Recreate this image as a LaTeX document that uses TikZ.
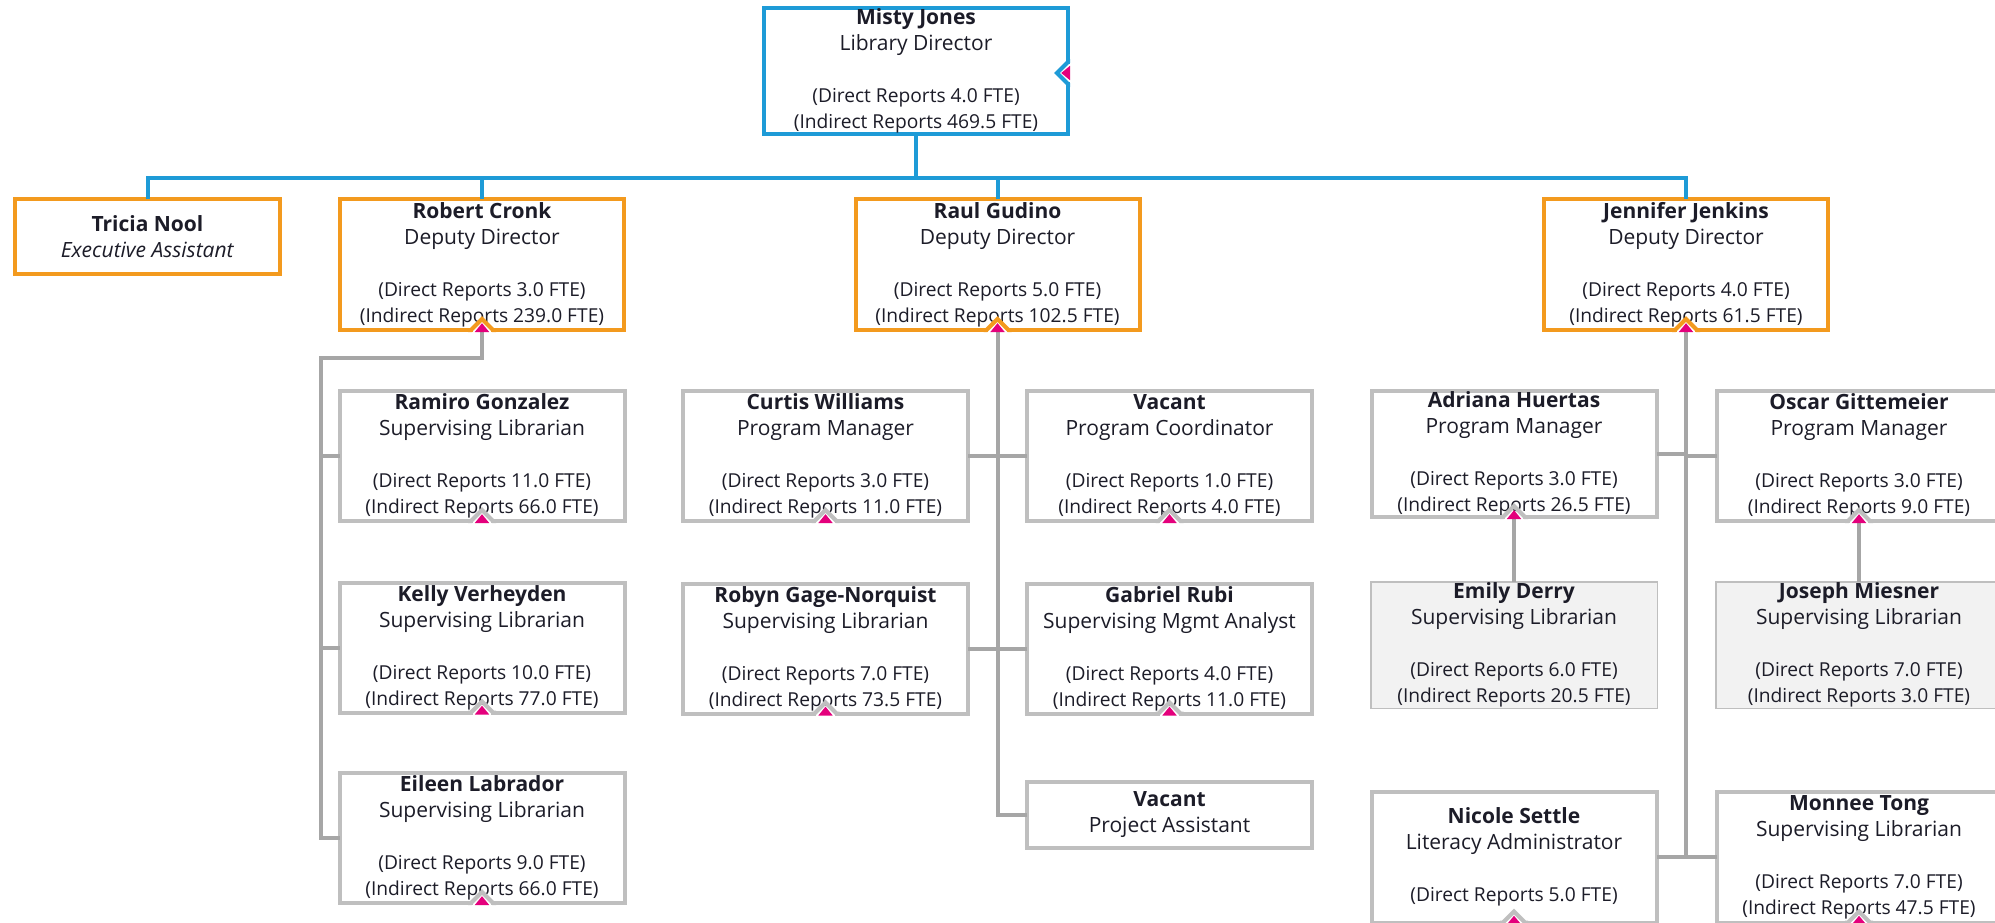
\documentclass[tikz,border=0pt]{standalone}
\usepackage{fontspec}
\setmainfont{Open Sans}
\usepackage{tikz}
\usetikzlibrary{positioning, calc}
\definecolor{chartblue}{HTML}{1E9BD7}
\definecolor{chartorange}{HTML}{F39A1E}
\definecolor{boxgray}{HTML}{BFBFBF}
\definecolor{wiregray}{HTML}{A6A6A6}
\definecolor{shadegray}{HTML}{F2F2F2}
\definecolor{notchpink}{HTML}{E4007C}
\definecolor{ink}{HTML}{1C1C28}
\newcommand{\namefont}{\fontsize{10.5}{13}\selectfont}
\newcommand{\reportfont}{\fontsize{9.6}{11}\selectfont}
\newcommand{\staff}[4]{\textbf{#1}\\#2\\[13pt]\reportfont(Direct Reports #3 FTE)\\\reportfont(Indirect Reports #4 FTE)}
\newcommand{\notch}[3]{% anchor, border colour, rotation
  \begin{scope}[shift={(#1)}, rotate=#3]
    \fill[white] (-4.6pt,-1.2pt) rectangle (4.6pt,1.2pt);
    \fill[notchpink] (-3.6pt,-1pt) -- (0,3.4pt) -- (3.6pt,-1pt) -- cycle;
    \draw[#2, line width=2pt] (-7pt,0) -- (-5.5pt,0) -- (0,5.5pt) -- (5.5pt,0) -- (7pt,0);
  \end{scope}}
\tikzstyle{director} = [rectangle, minimum width=152pt, minimum height=63pt, align=center, draw=chartblue, line width=2pt, fill=white, inner sep=0pt, outer sep=0pt, text=ink, font=\namefont]
\tikzstyle{deputy} = [rectangle, minimum width=142pt, minimum height=65.5pt, align=center, draw=chartorange, line width=2pt, fill=white, inner sep=0pt, outer sep=0pt, text=ink, font=\namefont]
\tikzstyle{staffbox} = [rectangle, minimum width=142.5pt, minimum height=65pt, align=center, draw=boxgray, line width=2pt, fill=white, inner sep=0pt, outer sep=0pt, text=ink, font=\namefont]
\tikzstyle{greybox} = [rectangle, minimum width=143.25pt, minimum height=63.25pt, align=center, draw=boxgray, line width=0.75pt, fill=shadegray, inner sep=0pt, outer sep=0pt, text=ink, font=\namefont]
\tikzstyle{bluewire} = [line width=2pt, draw=chartblue]
\tikzstyle{graywire} = [line width=2pt, draw=wiregray]

\begin{document}
\begin{tikzpicture}
            \useasboundingbox (0,0) rectangle (997.5pt,-461pt);
            \fill[white] (0,0) rectangle (997.5pt,-461pt);
            \clip (0,0) rectangle (997.5pt,-461pt);

            % Nodes
            \node (misty) [director] at (458pt,-35.5pt) {\staff{Misty Jones}{Library Director}{4.0}{469.5}};

            \node (raul) [deputy, below of=misty, node distance=96.75pt, xshift=40.75pt] {\staff{Raul Gudino}{Deputy Director}{5.0}{102.5}};
            \node (robert) [deputy, left of=raul, node distance=257.75pt] {\staff{Robert Cronk}{Deputy Director}{3.0}{239.0}};
            \node (jennifer) [deputy, right of=raul, node distance=344.25pt] {\staff{Jennifer Jenkins}{Deputy Director}{4.0}{61.5}};
            \node (tricia) [deputy, left of=robert, node distance=167.25pt, yshift=14pt, minimum width=132.5pt, minimum height=37.5pt] {\textbf{Tricia Nool}\\\textit{Executive Assistant}};

            \node (ramiro) [staffbox, below of=robert, node distance=95.75pt] {\staff{Ramiro Gonzalez}{Supervising Librarian}{11.0}{66.0}};
            \node (kelly) [staffbox, below of=ramiro, node distance=95.75pt] {\staff{Kelly Verheyden}{Supervising Librarian}{10.0}{77.0}};
            \node (eileen) [staffbox, below of=kelly, node distance=95.25pt] {\staff{Eileen Labrador}{Supervising Librarian}{9.0}{66.0}};

            \node (curtis) [staffbox, below of=raul, node distance=95.75pt, xshift=-86pt] {\staff{Curtis Williams}{Program Manager}{3.0}{11.0}};
            \node (vacpc) [staffbox, right of=curtis, node distance=172pt] {\staff{Vacant}{Program Coordinator}{1.0}{4.0}};
            \node (robyn) [staffbox, below of=curtis, node distance=96.25pt] {\staff{Robyn Gage-Norquist}{Supervising Librarian}{7.0}{73.5}};
            \node (gabriel) [staffbox, right of=robyn, node distance=172pt] {\staff{Gabriel Rubi}{Supervising Mgmt Analyst}{4.0}{11.0}};
            \node (vacpa) [staffbox, below of=gabriel, node distance=83.25pt, minimum height=33pt] {\textbf{Vacant}\\Project Assistant};

            \node (adriana) [staffbox, below of=jennifer, node distance=94.75pt, xshift=-86pt, minimum height=63pt] {\staff{Adriana Huertas}{Program Manager}{3.0}{26.5}};
            \node (oscar) [staffbox, right of=adriana, node distance=172.5pt, yshift=-1pt] {\staff{Oscar Gittemeier}{Program Manager}{3.0}{9.0}};
            \node (emily) [greybox, below of=adriana, node distance=95.5pt] {\staff{Emily Derry}{Supervising Librarian}{6.0}{20.5}};
            \node (joseph) [greybox, right of=emily, node distance=172.5pt] {\staff{Joseph Miesner}{Supervising Librarian}{7.0}{3.0}};
            \node (nicole) [staffbox, below of=emily, node distance=106pt, minimum height=65.5pt] {\textbf{Nicole Settle}\\Literacy Administrator\\[13pt]\reportfont(Direct Reports 5.0 FTE)};
            \node (monnee) [staffbox, right of=nicole, node distance=172.5pt, minimum height=65.5pt] {\staff{Monnee Tong}{Supervising Librarian}{7.0}{47.5}};

            % Edges
            \coordinate (hub) at ($(misty.south)+(0,-22pt)$);
            \draw [bluewire] (misty.south) -- (hub);
            \draw [bluewire] (hub) -| (tricia.north);
            \draw [bluewire] (hub) -| (robert.north);
            \draw [bluewire] (hub) -| (raul.north);
            \draw [bluewire] (hub) -| (jennifer.north);

            \coordinate (robertknee) at ($(robert.south)+(0,-14pt)$);
            \coordinate (robertbus) at ($(ramiro.west)+(-9.5pt,0)$);
            \draw [graywire] (robert.south) -- (robertknee) -| (robertbus) |- (eileen.west);
            \draw [graywire] (ramiro.west) -- (robertbus);
            \draw [graywire] (kelly.west) -- (kelly.west -| robertbus);

            \draw [graywire] (raul.south) |- (vacpa.west);
            \draw [graywire] (curtis.east) -- (vacpc.west);
            \draw [graywire] (robyn.east) -- (gabriel.west);

            \draw [graywire] (jennifer.south) |- (nicole.east);
            \draw [graywire] (monnee.west) -- (monnee.west -| jennifer.south);
            \draw [graywire] (adriana.east) -- (adriana.east -| jennifer.south);
            \draw [graywire] (oscar.west) -- (oscar.west -| jennifer.south);
            \draw [graywire] (adriana.south) -- (emily.north);
            \draw [graywire] (oscar.south) -- (joseph.north);

            % Notches
            \notch{$(misty.east)+(0,-1pt)$}{chartblue}{90}
            \notch{robert.south}{chartorange}{0}
            \notch{raul.south}{chartorange}{0}
            \notch{jennifer.south}{chartorange}{0}
            \notch{ramiro.south}{boxgray}{0}
            \notch{kelly.south}{boxgray}{0}
            \notch{eileen.south}{boxgray}{0}
            \notch{curtis.south}{boxgray}{0}
            \notch{vacpc.south}{boxgray}{0}
            \notch{robyn.south}{boxgray}{0}
            \notch{gabriel.south}{boxgray}{0}
            \notch{adriana.south}{boxgray}{0}
            \notch{oscar.south}{boxgray}{0}
            \notch{nicole.south}{boxgray}{0}
            \notch{monnee.south}{boxgray}{0}

        \end{tikzpicture}
\end{document}
